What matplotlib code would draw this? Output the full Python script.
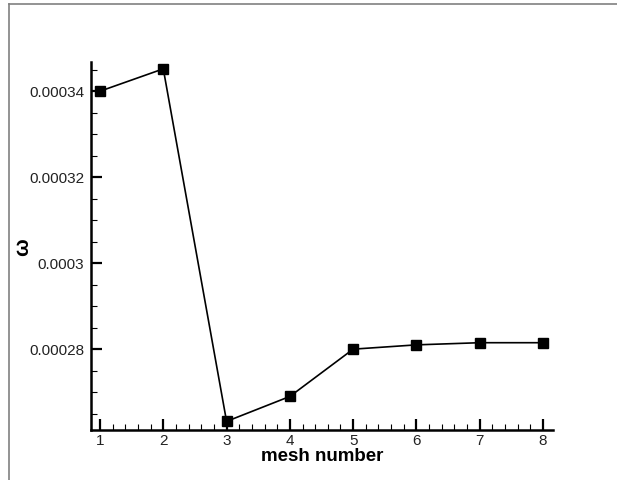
import numpy as np
import matplotlib
matplotlib.use("Agg")
import matplotlib.pyplot as plt
from matplotlib.lines import Line2D
from matplotlib.ticker import MultipleLocator, FixedLocator

plt.rcParams['font.family'] = ['Liberation Sans', 'DejaVu Sans']

# mesh number vs omega
mesh = [1, 2, 3, 4, 5, 6, 7, 8]
omega = [0.000340, 0.0003452, 0.0002632, 0.000269, 0.000280, 0.000281, 0.0002815, 0.0002815]
ytick_vals = [0.00028, 0.0003, 0.00032, 0.00034]
ytick_labels = ['0.00028', '0.0003', '0.00032', '0.00034']

fig = plt.figure(figsize=(6.17, 4.8), dpi=100)
ax = fig.add_axes([0.1475, 0.1042, 0.7488, 0.7667])

ax.plot(mesh, omega, color='black', linewidth=1.2, marker='s',
        markersize=7, markerfacecolor='black', markeredgecolor='black')

ax.set_xlim(0.858, 8.158)
ax.set_ylim(0.0002612, 0.0003468)

# axes like tecplot: only left and bottom
for s in ['top', 'right']:
    ax.spines[s].set_visible(False)
ax.spines['left'].set_linewidth(1.8)
ax.spines['bottom'].set_linewidth(1.8)

ax.xaxis.set_major_locator(MultipleLocator(1))
ax.xaxis.set_minor_locator(MultipleLocator(0.2))
ax.yaxis.set_major_locator(FixedLocator(ytick_vals))
ax.set_yticklabels(ytick_labels)
ax.yaxis.set_minor_locator(MultipleLocator(0.000005))

ax.tick_params(axis='both', which='major', direction='in', length=8, width=1.6,
               labelsize=11, labelcolor='#222222', colors='black', pad=3)
ax.tick_params(axis='both', which='minor', direction='in', length=4, width=0.8)
ax.tick_params(axis='y', which='major', pad=5)

ax.set_xlabel('mesh number', fontsize=13.5, fontweight='bold', labelpad=0)
fig.text(23 / 617, 1 - 247 / 480, 'ω', rotation=90, fontsize=15,
         fontweight='bold', ha='center', va='center')

# thin gray frame on top and left of the picture
fig.add_artist(Line2D([9 / 617, 9 / 617], [0, 1 - 4 / 480], transform=fig.transFigure,
                      color='#808080', linewidth=1.2))
fig.add_artist(Line2D([9 / 617, 1], [1 - 4 / 480, 1 - 4 / 480], transform=fig.transFigure,
                      color='#808080', linewidth=1.2))

fig.savefig('out.png', dpi=100)
